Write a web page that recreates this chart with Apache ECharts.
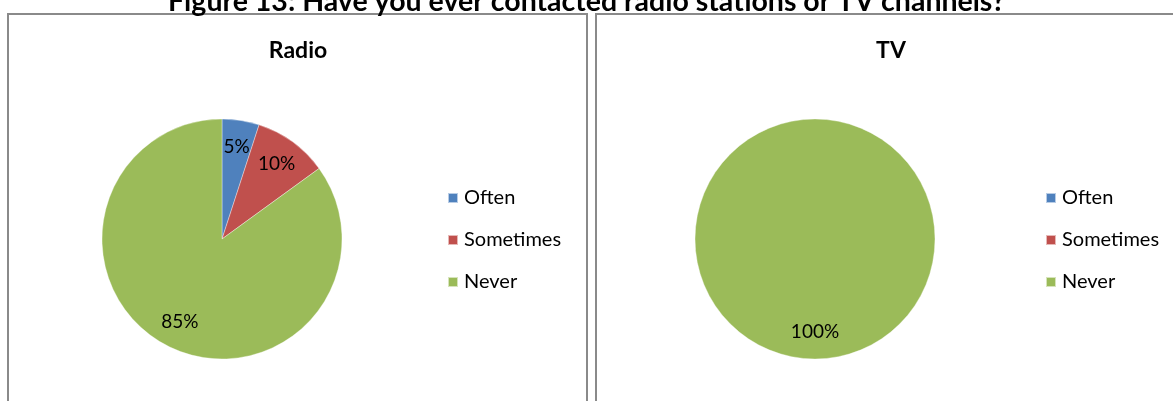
<!DOCTYPE html>
<html><head><meta charset="utf-8">
<script src="https://cdn.jsdelivr.net/npm/echarts@6/dist/echarts.min.js"></script>
<style>html,body{margin:0;padding:0;background:#fff}#c{width:1173px;height:401px}</style>
</head><body><div id="c"></div>
<script>
const categories = ['Often', 'Sometimes', 'Never'];
const radioValues = [5, 10, 85];
const tvValues = [0, 0, 100];
const mainTitle = 'Figure 13: Have you ever contacted radio stations or TV channels?';
const panelTitles = ['Radio', 'TV'];
const colors = ['#4F81BD', '#C0504D', '#9BBB59'];
const FONT = 'Lato';

const chart = echarts.init(document.getElementById('c'), null, {renderer: 'canvas'});
function toData(vals) { return categories.map((n, i) => ({name: n, value: vals[i]})); }
function pieSeries(vals, cx) {
  return [{
    type: 'pie', center: [cx, 239], radius: 120, startAngle: 90, clockwise: true,
    silent: true, animation: false,
    itemStyle: {borderColor: 'rgba(255,255,255,0.6)', borderWidth: 0.6},
    label: {show: false}, labelLine: {show: false},
    data: toData(vals)
  }, {
    type: 'pie', center: [cx, 239], radius: [60, 120], startAngle: 90, clockwise: true,
    silent: true, animation: false, legendHoverLink: false,
    itemStyle: {color: 'rgba(0,0,0,0)'},
    label: {show: true, position: 'inside', color: '#000', fontFamily: FONT, fontSize: 19,
      formatter: p => p.value > 0 ? Math.round(p.percent) + '%' : ''},
    labelLine: {show: false},
    data: toData(vals)
  }];
}
const legendCommon = {
  orient: 'vertical', icon: 'rect', itemWidth: 10, itemHeight: 10, itemGap: 20,
  textStyle: {fontFamily: FONT, fontSize: 20, color: '#000', lineHeight: 22, padding: [0, 0, 0, 1]},
  data: categories, selectedMode: false
};
chart.setOption({
  animation: false,
  color: colors,
  title: [
    {text: mainTitle, left: 'center', top: -18, textStyle: {fontFamily: FONT, fontWeight: 'bold', fontSize: 28.5, color: '#000'}},
    {text: panelTitles[0], left: 298, top: 39, textAlign: 'center', padding: 0, textStyle: {fontFamily: FONT, fontWeight: 'bold', fontSize: 23, color: '#000'}},
    {text: panelTitles[1], left: 891, top: 39, textAlign: 'center', padding: 0, textStyle: {fontFamily: FONT, fontWeight: 'bold', fontSize: 23, color: '#000'}}
  ],
  legend: [
    Object.assign({left: 442, top: 182}, legendCommon),
    Object.assign({left: 1040, top: 182}, legendCommon)
  ],
  graphic: [
    {type: 'rect', shape: {x: 8, y: 14, width: 579, height: 400}, style: {fill: 'none', stroke: '#8a8a8a', lineWidth: 2}, z: -1},
    {type: 'rect', shape: {x: 596, y: 14, width: 600, height: 400}, style: {fill: 'none', stroke: '#8a8a8a', lineWidth: 2}, z: -1}
  ],
  series: [...pieSeries(radioValues, 222), ...pieSeries(tvValues, 815)]
});
</script></body></html>
